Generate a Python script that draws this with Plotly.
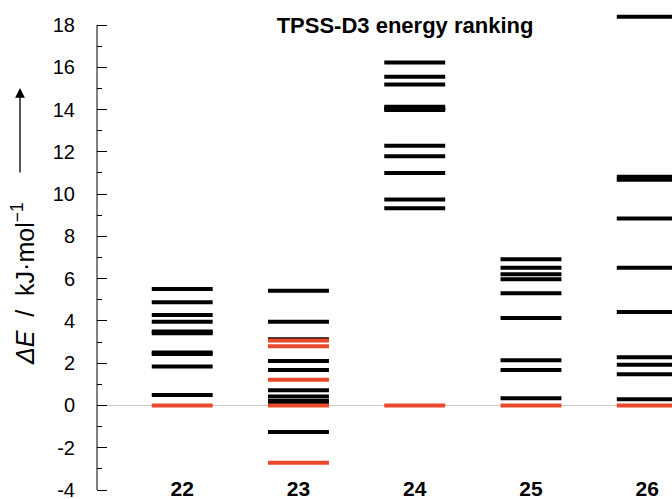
import plotly.graph_objects as go

# Relative energies (kJ/mol) of the low-lying structures of each conformer family
conformers = [22, 23, 24, 25, 26]
tick_labels = ["22", "23", "24", "25", "26"]
y_ticks = [-4, -2, 0, 2, 4, 6, 8, 10, 12, 14, 16, 18]
y_tick_text = ["-4", "-2", "0", "2", "4", "6", "8", "10", "12", "14", "16", "18"]

black_22 = [5.51, 4.88, 4.28, 3.96, 3.50, 3.42, 2.51, 2.43, 1.84, 0.50]
black_23 = [5.43, 3.96, 3.13, 2.10, 1.68, 0.72, 0.42, 0.21, 0.08, -1.25]
black_24 = [16.22, 15.55, 15.18, 14.13, 14.05, 13.98, 12.29, 11.79, 11.00, 9.75, 9.33]
black_25 = [6.92, 6.52, 6.21, 5.97, 5.31, 4.14, 2.14, 1.68, 0.34]
black_26 = [18.39, 10.82, 10.68, 8.85, 6.52, 4.42, 2.28, 1.93, 1.48, 0.29]

red_22 = [0.0]
red_23 = [3.07, 2.80, 1.22, 0.0, -2.71]
red_24 = [0.0]
red_25 = [0.0]
red_26 = [0.0]

black_levels = [black_22, black_23, black_24, black_25, black_26]
red_levels = [red_22, red_23, red_24, red_25, red_26]

HALF = 0.262  # half length of each level bar in category units
RED = "#E8492B"
FONT = "Liberation Sans, Arial, Helvetica, sans-serif"


def level_segments(centres, groups):
    xs, ys = [], []
    for c, vals in zip(centres, groups):
        for v in vals:
            xs += [c - HALF, c + HALF, None]
            ys += [v, v, None]
    return xs, ys


fig = go.Figure()
for groups, colour in ((black_levels, "black"), (red_levels, RED)):
    xs, ys = level_segments(conformers, groups)
    fig.add_trace(go.Scatter(x=xs, y=ys, mode="lines",
                             line=dict(color=colour, width=4),
                             hoverinfo="skip", showlegend=False))

# y-axis spine from -4 to 18
fig.add_shape(type="line", xref="paper", yref="y", x0=0, x1=0, y0=-4, y1=18,
              line=dict(color="black", width=1))

# axis title and upward arrow
fig.add_annotation(text="<i>ΔE</i>  /  kJ·mol<sup>−1</sup>", textangle=-90,
                   xref="paper", yref="paper", x=-0.1285, y=0.4397,
                   xanchor="center", yanchor="middle", showarrow=False,
                   font=dict(family=FONT, size=25, color="black"))
fig.add_annotation(text="", xref="paper", yref="paper", x=-0.1339, y=0.8405,
                   ax=0, ay=86, axref="pixel", ayref="pixel",
                   showarrow=True, arrowhead=2, arrowsize=1.5, arrowwidth=1.3,
                   arrowcolor="black")

fig.update_layout(
    width=672, height=499,
    margin=dict(l=97, r=0, t=10, b=0, autoexpand=False),
    paper_bgcolor="white", plot_bgcolor="white",
    font=dict(family=FONT, color="black"),
    title=dict(text="<b>TPSS-D3 energy ranking</b>", x=0.5357, xref="paper",
               xanchor="center", y=1 - 25 / 499, yref="container", yanchor="middle",
               font=dict(family=FONT, size=22, color="black")),
    xaxis=dict(range=[21.267, 26.213], showgrid=False, zeroline=False, showline=False,
               automargin=False, ticklabeloverflow="allow",
               tickmode="array", tickvals=conformers, ticktext=tick_labels,
               ticks="", ticklabelstandoff=-25,
               tickfont=dict(family=FONT, size=21, color="black", weight="bold")),
    yaxis=dict(range=[-4.4258, 18.7097], showgrid=False, showline=False,
               automargin=False, ticklabeloverflow="allow",
               zeroline=True, zerolinecolor="#c8c8c8", zerolinewidth=1,
               tickmode="array", tickvals=y_ticks, ticktext=y_tick_text,
               ticks="inside", ticklen=10, tickwidth=1,
               tickcolor="black", ticklabelstandoff=21,
               tickfont=dict(family=FONT, size=20, color="black"),
               minor=dict(ticks="inside", ticklen=5, tickwidth=1, tickcolor="black",
                          dtick=1, tick0=0, showgrid=False)),
)

fig.write_html("out.html")
